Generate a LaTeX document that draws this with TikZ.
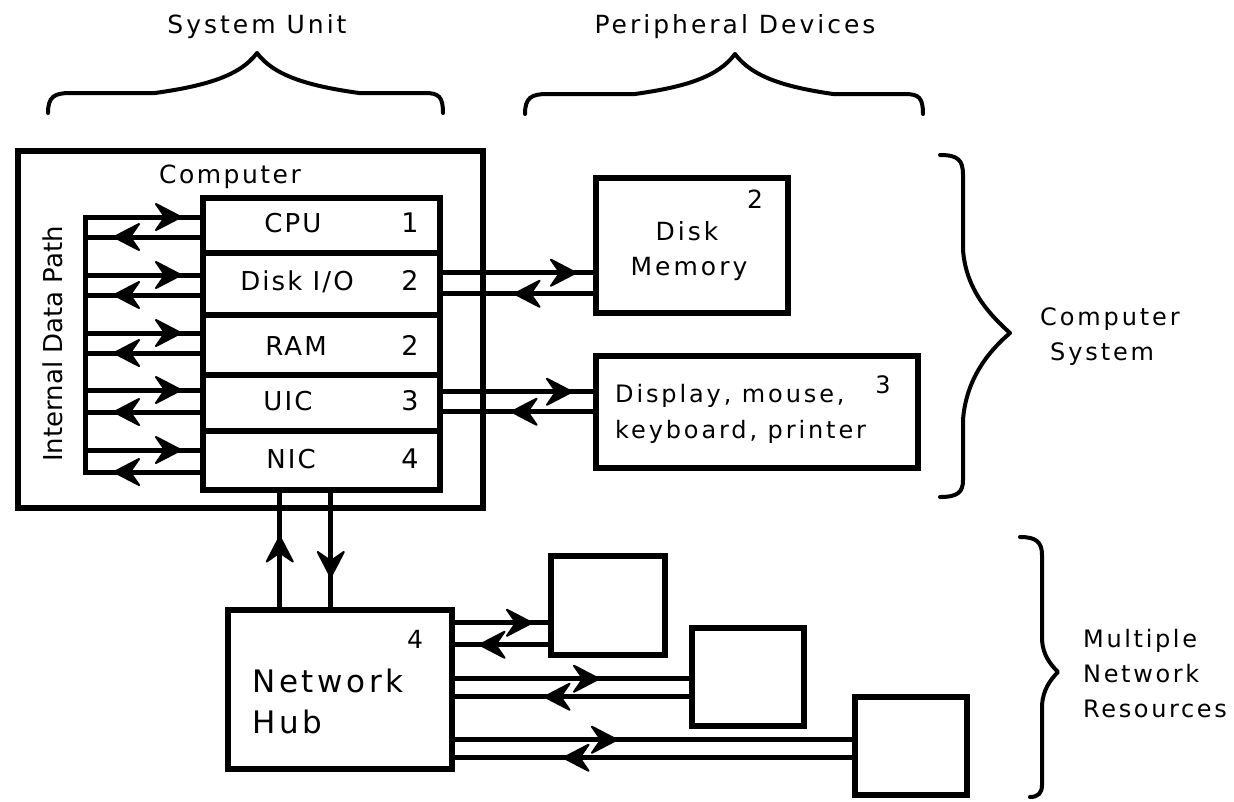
\documentclass[tikz,border=0pt]{standalone}
\usepackage{fontspec}
\setmainfont{DejaVu Sans}
\usetikzlibrary{decorations.markings}
\begin{document}
\begin{tikzpicture}[x=1pt,y=-1pt,
  box/.style={draw,line width=5.5pt,inner sep=0pt,anchor=north west},
  conn/.style={line width=5pt},
  tipat/.style={postaction={decorate,decoration={markings,
      mark=at position #1 with {\filldraw[line width=2pt,line join=round] (-1pt,0pt) -- (-26pt,13pt) -- (-17pt,0pt) -- (-26pt,-13pt) -- cycle;}}}},
  brace/.style={line width=4pt,line cap=round,line join=round},
  lab/.style 2 args={inner sep=0pt,font=\fontsize{#1}{#1}\selectfont\addfontfeatures{LetterSpace=#2}}]
\useasboundingbox (0,0) rectangle (1234,801);

% ---------- boxes ----------
\node[box,minimum width=465pt,minimum height=357pt] (comp) at (15,148) {};
\node[box,minimum width=237pt,minimum height=55pt] (cpu)  at (200,195) {};
\node[box,minimum width=237pt,minimum height=62pt] (disk) at (200,250) {};
\node[box,minimum width=237pt,minimum height=60pt] (ram)  at (200,312) {};
\node[box,minimum width=237pt,minimum height=56pt] (uic)  at (200,372) {};
\node[box,minimum width=237pt,minimum height=59pt] (nic)  at (200,428) {};
\node[box,minimum width=192pt,minimum height=135pt] (mem) at (593,175) {};
\node[box,minimum width=322pt,minimum height=112pt] (disp) at (593,353) {};
\node[box,minimum width=224pt,minimum height=159pt] (hub) at (225,607) {};
\node[box,minimum width=114pt,minimum height=99pt] (res1) at (548,553) {};
\node[box,minimum width=112pt,minimum height=98pt] (res2) at (689,625) {};
\node[box,minimum width=112pt,minimum height=98pt] (res3) at (852,694) {};

% ---------- texts ----------
\node[lab={25}{10},anchor=base] (ttl) at (230,183) {Computer};
\node[lab={26}{0},anchor=base,rotate=90] (idp) at (62,344) {Internal Data Path};
\node[lab={26}{8},anchor=base] (tcpu)  at (293,232) {CPU};
\node[lab={26}{8},anchor=base] (tdisk) at (297,290) {Disk I/O};
\node[lab={26}{8},anchor=base] (tram)  at (296,355) {RAM};
\node[lab={26}{8},anchor=base] (tuic)  at (288,410) {UIC};
\node[lab={26}{8},anchor=base] (tnic)  at (291,468) {NIC};
\node[lab={27}{0},anchor=base] (ncpu)  at (410,232) {1};
\node[lab={27}{0},anchor=base] (ndisk) at (410,290) {2};
\node[lab={27}{0},anchor=base] (nram)  at (410,355) {2};
\node[lab={27}{0},anchor=base] (nuic)  at (410,410) {3};
\node[lab={27}{0},anchor=base] (nnic)  at (410,468) {4};

\node[lab={25}{12},anchor=base] (tmem1) at (687,240) {Disk};
\node[lab={25}{12},anchor=base] (tmem2) at (689,275) {Memory};
\node[lab={25}{0},anchor=base] (nmem)  at (755,208) {2};
\node[lab={24}{12},anchor=base west] (tdisp1) at (615,402) {Display, mouse,};
\node[lab={24}{12},anchor=base west] (tdisp2) at (615,438) {keyboard, printer};
\node[lab={24}{0},anchor=base] (ndisp) at (883,393) {3};

\node[lab={25}{0},anchor=base] (nhub) at (415,648) {4};
\node[lab={31}{12},anchor=base west] (thub1) at (252,692) {Network};
\node[lab={31}{12},anchor=base west] (thub2) at (252,733) {Hub};

\node[lab={25}{12},anchor=base] (tsu) at (257,33) {System Unit};
\node[lab={25}{12},anchor=base] (tpd) at (735,33) {Peripheral Devices};
\node[lab={24}{12},anchor=base west] (tcs1) at (1040,325) {Computer};
\node[lab={24}{12},anchor=base west] (tcs2) at (1050,360) {System};
\node[lab={24}{11},anchor=base west] (tmn1) at (1083,647) {Multiple};
\node[lab={24}{11},anchor=base west] (tmn2) at (1083,682) {Network};
\node[lab={24}{11},anchor=base west] (tmn3) at (1083,717) {Resources};

% ---------- internal data path ----------
\coordinate (bt) at (85,217);
\coordinate (bb) at (85,472);
\draw[conn,line cap=rect] (bt) -- (bb);
\foreach \ya/\yb/\row in {217/237/cpu,275/295/disk,333/353/ram,390/412/uic,450/472/nic}{
  \coordinate (ra) at (85,\ya);
  \coordinate (rb) at (85,\yb);
  \draw[conn,tipat=-18pt] (ra) -- (ra -| \row.west);
  \draw[conn,tipat=-28pt] (rb -| \row.west) -- (rb);
}

% ---------- peripherals ----------
\coordinate (m1) at ([yshift=11pt]disk.east);
\coordinate (m2) at ([yshift=-10pt]disk.east);
\draw[conn,tipat=-16pt] (m1) -- (m1 -| mem.west);
\draw[conn,tipat=-71pt] (m2 -| mem.west) -- (m2);
\coordinate (u1) at ([yshift=11pt]uic.east);
\coordinate (u2) at ([yshift=-9pt]uic.east);
\draw[conn,tipat=-20pt] (u1) -- (u1 -| disp.west);
\draw[conn,tipat=-68pt] (u2 -| disp.west) -- (u2);

% ---------- NIC <-> hub ----------
\coordinate (nu) at ([xshift=-41.5pt]nic.south);
\coordinate (nd) at ([xshift=9.5pt]nic.south);
\draw[conn,tipat=-43pt] (nu |- hub.north) -- (nu);
\draw[conn,tipat=-29pt] (nd) -- (nd |- hub.north);

% ---------- hub <-> resources ----------
\coordinate (a1) at ([yshift=-17.5pt]res1.west);
\coordinate (a2) at ([yshift=-39.5pt]res1.west);
\draw[conn,tipat=-15pt] (a1 -| hub.east) -- (a1);
\draw[conn,tipat=-24pt] (a2) -- (a2 -| hub.east);
\coordinate (b1) at ([yshift=-2pt]res2.west);
\coordinate (b2) at ([yshift=-20pt]res2.west);
\draw[conn,tipat=-89pt] (b1 -| hub.east) -- (b1);
\draw[conn,tipat=-89pt] (b2) -- (b2 -| hub.east);
\coordinate (c1) at ([yshift=6pt]res3.west);
\coordinate (c2) at ([yshift=-12pt]res3.west);
\draw[conn,tipat=-234pt] (c1 -| hub.east) -- (c1);
\draw[conn,tipat=-108pt] (c2) -- (c2 -| hub.east);

% ---------- braces ----------
\draw[brace] (48,113) .. controls (48,97) and (54,93) .. (70,93) -- (155,93)
  .. controls (205,86) and (240,76) .. (257,53)
  .. controls (274,76) and (309,86) .. (359,93) -- (425,93)
  .. controls (439,93) and (443,97) .. (443,113);
\draw[brace] (525,114) .. controls (525,98) and (531,94) .. (547,94) -- (635,94)
  .. controls (685,87) and (718,77) .. (735,54)
  .. controls (752,77) and (785,87) .. (833,94) -- (905,94)
  .. controls (919,94) and (923,98) .. (923,114);
\draw[brace] (940,155) .. controls (958,155) and (963,160) .. (963,175) -- (963,250)
  .. controls (966,290) and (990,315) .. (1010,333)
  .. controls (990,350) and (966,378) .. (963,420) -- (963,480)
  .. controls (963,492) and (958,497) .. (940,497);
\draw[brace] (1020,537) .. controls (1036,537) and (1042,542) .. (1042,555) -- (1042,640)
  .. controls (1043,655) and (1050,664) .. (1058,672)
  .. controls (1050,680) and (1043,690) .. (1042,705) -- (1042,785)
  .. controls (1042,793) and (1038,797) .. (1030,797);
\end{tikzpicture}
\end{document}
